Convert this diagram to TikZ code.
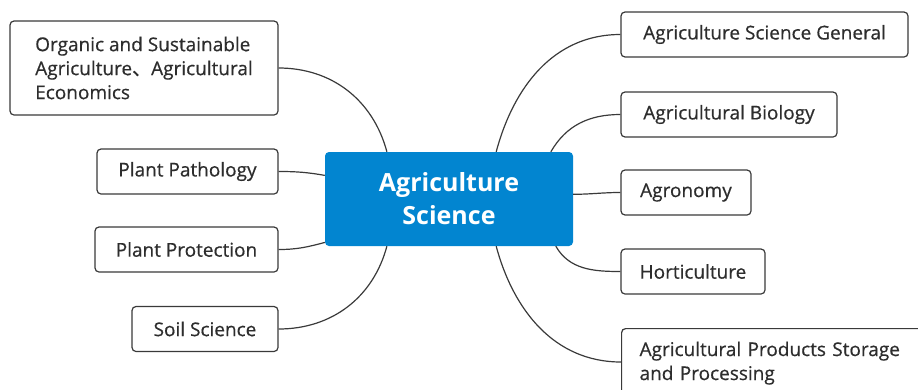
\documentclass[tikz,border=0pt]{standalone}
\usepackage{fontspec}
\setmainfont{Open Sans}
\newfontfamily\topicfont{Open Sans}[FakeBold=0.5]
\newfontfamily\cjk{Noto Sans CJK SC}[FakeBold=0.5]
\usetikzlibrary{calc}

\definecolor{rootblue}{RGB}{2,133,208}
\definecolor{edgegray}{RGB}{58,58,58}
\definecolor{textgray}{RGB}{45,45,45}

\tikzset{
  topic/.style={draw=edgegray, line width=1.2pt, rounded corners=4pt, fill=white,
    text=textgray, font=\topicfont\fontsize{19}{24}\selectfont, minimum height=45, inner xsep=18},
  rootbox/.style={fill=rootblue, rounded corners=4pt, text=white, align=center,
    font=\bfseries\fontsize{25}{33}\selectfont},
  link/.style={draw=edgegray, line width=1.2pt}
}

\begin{document}
\begin{tikzpicture}[x=1pt,y=1pt]
\clip (0,0) rectangle (918,-389);

\node[rootbox, minimum width=248, minimum height=94] (root) at (449,-199) {Agriculture\\Science};

% left side
\node[topic, minimum width=268, minimum height=94, align=left] (organic) at (144,-68) {Organic and Sustainable\\Agriculture{\cjk 、}Agricultural\\Economics};
\node[topic, minimum width=181] (pathology) at (187.5,-171.5) {Plant Pathology};
\node[topic, minimum width=183] (protection) at (186.5,-249.5) {Plant Protection};
\node[topic, minimum width=146] (soil) at (205,-329) {Soil Science};

% right side
\node[topic, minimum width=287] (general) at (764.5,-34.5) {Agriculture Science General};
\node[topic, minimum width=216] (biology) at (729,-114.5) {Agricultural Biology};
\node[topic, minimum width=130] (agronomy) at (686,-192.5) {Agronomy};
\node[topic, minimum width=144] (horti) at (693,-271.5) {Horticulture};
\node[topic, anchor=north west, text width=285, align=left, inner ysep=13] (storage) at (621,-328) {Agricultural Products Storage\\and Processing};

\draw[link] (organic.east) to[out=0,in=105] ($(root.north west)!.25!(root.north east)$);
\draw[link] (pathology.east) to[out=0,in=170] ($(root.north west)!.25!(root.south west)$);
\draw[link] (protection.east) to[out=0,in=195] ($(root.north west)!.96!(root.south west)$);
\draw[link] (soil.east) to[out=0,in=-105] ($(root.south west)!.25!(root.south east)$);

\draw[link] (general.west) to[out=180,in=75] ($(root.north west)!.69!(root.north east)$);
\draw[link] (biology.west) to[out=180,in=60] ($(root.north west)!.91!(root.north east)$);
\draw[link] (agronomy.west) to[out=180,in=0] ($(root.north east)!.45!(root.south east)$);
\draw[link] (horti.west) to[out=180,in=-60] ($(root.south west)!.93!(root.south east)$);
\draw[link] ($(storage.north west)+(0,-34)$) to[out=180,in=-75] ($(root.south west)!.69!(root.south east)$);

\end{tikzpicture}
\end{document}
